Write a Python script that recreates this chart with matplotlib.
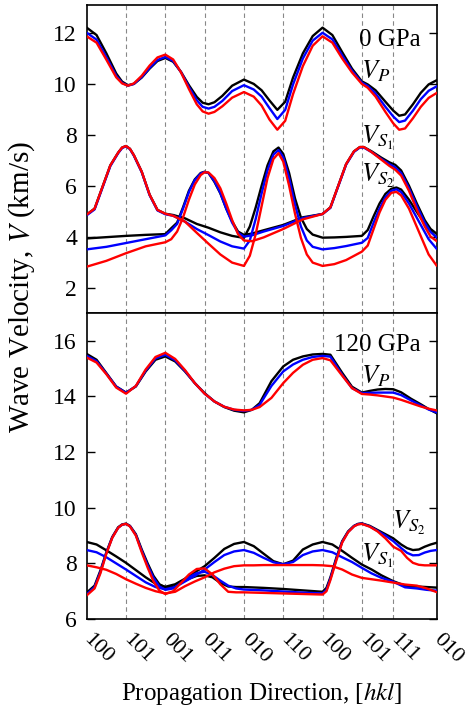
import numpy as np
import matplotlib.pyplot as plt

plt.rcParams['font.family'] = ['Liberation Serif', 'DejaVu Serif']
plt.rcParams['mathtext.fontset'] = 'stix'

# high-symmetry directions along the path (x in path units)
dir_pos = [0, 1, 2, 3, 4, 5, 6, 7, 7.79, 8.9]
dir_labels = ['100', '101', '001', '011', '010', '110', '100', '101', '111', '010']

# ---------------- 0 GPa ----------------
x_p0 = [0, 0.25, 0.5, 0.75, 0.9, 1.05, 1.2, 1.4, 1.6, 1.8, 2.0, 2.2, 2.4, 2.6, 2.8, 2.95,
        3.1, 3.25, 3.45, 3.7, 4.0, 4.25, 4.45, 4.65, 4.85, 5.05, 5.25, 5.5, 5.75, 6.0,
        6.25, 6.5, 6.75, 7.0, 7.15, 7.35, 7.6, 7.8, 7.95, 8.1, 8.3, 8.5, 8.7, 8.9]
vp0_black = [12.21, 11.92, 11.2, 10.41, 10.09, 9.95, 10.0, 10.25, 10.6, 10.9, 11.02, 10.87,
             10.47, 9.95, 9.49, 9.26, 9.2, 9.28, 9.53, 9.93, 10.17, 10.0, 9.75, 9.35, 8.98,
             9.3, 10.25, 11.2, 11.88, 12.21, 11.92, 11.25, 10.6, 10.1, 9.98, 9.75, 9.3,
             8.95, 8.75, 8.8, 9.2, 9.65, 9.98, 10.14]
vp0_blue = [12.01, 11.74, 11.05, 10.32, 10.04, 9.93, 10.0, 10.27, 10.63, 10.94, 11.06, 10.9,
            10.46, 9.88, 9.36, 9.1, 9.03, 9.1, 9.33, 9.72, 9.95, 9.78, 9.5, 9.05, 8.62,
            8.98, 9.98, 11.0, 11.7, 12.01, 11.75, 11.12, 10.52, 10.05, 9.92, 9.62, 9.1,
            8.72, 8.5, 8.56, 8.95, 9.4, 9.73, 9.9]
vp0_red = [11.87, 11.62, 10.95, 10.26, 10.02, 9.93, 10.02, 10.32, 10.72, 11.04, 11.15, 10.96,
           10.45, 9.8, 9.2, 8.92, 8.83, 8.9, 9.12, 9.46, 9.68, 9.5, 9.15, 8.6, 8.2,
           8.55, 9.6, 10.7, 11.5, 11.87, 11.62, 11.0, 10.45, 10.0, 9.85, 9.5, 8.9,
           8.45, 8.2, 8.25, 8.65, 9.1, 9.45, 9.64]

x_sa0 = [0, 0.2, 0.4, 0.6, 0.8, 0.9, 1.0, 1.1, 1.2, 1.4, 1.6, 1.8, 2.0, 2.2, 2.5, 2.8, 3.1,
         3.4, 3.7, 4.0, 4.15, 4.3, 4.45, 4.6, 4.75, 4.88, 5.0, 5.15, 5.3, 5.45, 5.6, 5.75,
         6.0, 6.3, 6.6, 7.0, 7.15, 7.3, 7.45, 7.6, 7.75, 7.88, 8.0, 8.2, 8.45, 8.7, 8.9]
vsa0_black = [4.87, 5.1, 5.95, 6.8, 7.3, 7.5, 7.56, 7.45, 7.2, 6.55, 5.65, 5.05, 4.9, 4.85,
              4.72, 4.5, 4.35, 4.17, 4.03, 3.95, 4.4, 5.15, 6.0, 6.8, 7.35, 7.5, 7.25, 6.5,
              5.5, 4.75, 4.3, 4.08, 3.96, 3.97, 3.99, 4.03, 4.26, 4.8, 5.3, 5.68, 5.88,
              5.93, 5.85, 5.45, 4.85, 4.3, 3.97]
vsa0_blue = [4.84, 5.07, 5.92, 6.77, 7.28, 7.48, 7.55, 7.44, 7.18, 6.53, 5.63, 5.03, 4.88,
             4.82, 4.59, 4.3, 4.06, 3.81, 3.62, 3.53, 3.85, 4.7, 5.7, 6.6, 7.22, 7.4, 7.12,
             6.3, 5.25, 4.4, 3.85, 3.6, 3.5, 3.55, 3.63, 3.76, 3.95, 4.55, 5.1, 5.55, 5.8,
             5.86, 5.75, 5.3, 4.6, 3.9, 3.53]
vsa0_red = [4.87, 5.1, 5.95, 6.8, 7.3, 7.5, 7.56, 7.45, 7.2, 6.55, 5.65, 5.05, 4.9, 4.82,
            4.59, 4.15, 3.72, 3.3, 2.98, 2.85, 3.25, 4.1, 5.2, 6.3, 7.05, 7.28, 6.95, 6.0,
            4.9, 3.95, 3.3, 2.98, 2.85, 2.92, 3.08, 3.41, 3.65, 4.3, 4.95, 5.45, 5.72,
            5.76, 5.62, 5.1, 4.2, 3.3, 2.87]

x_sb0 = [0, 0.5, 1.0, 1.5, 2.0, 2.15, 2.3, 2.45, 2.6, 2.75, 2.9, 3.0, 3.1, 3.25, 3.4, 3.55,
         3.7, 3.85, 4.0, 4.2, 4.5, 5.0, 5.5, 6.0, 6.2, 6.4, 6.6, 6.8, 6.95, 7.05, 7.25,
         7.5, 7.7, 7.85, 8.0, 8.2, 8.4, 8.6, 8.75, 8.9]
vsb0_black = [3.93, 3.98, 4.03, 4.07, 4.1, 4.33, 4.55, 5.15, 5.8, 6.25, 6.5, 6.55, 6.5, 6.15,
              5.7, 5.1, 4.6, 4.2, 4.07, 4.12, 4.25, 4.46, 4.76, 4.89, 5.15, 6.0, 6.85,
              7.35, 7.52, 7.52, 7.35, 7.1, 6.92, 6.82, 6.6, 6.0, 5.3, 4.65, 4.3, 4.12]
vsb0_blue = [3.5, 3.6, 3.75, 3.9, 4.05, 4.25, 4.5, 5.1, 5.75, 6.22, 6.48, 6.54, 6.5, 6.18,
             5.72, 5.1, 4.55, 4.15, 4.0, 4.05, 4.2, 4.42, 4.73, 4.89, 5.13, 5.98, 6.83,
             7.33, 7.5, 7.5, 7.32, 7.05, 6.85, 6.72, 6.5, 5.9, 5.2, 4.55, 4.18, 3.98]
vsb0_red = [2.82, 3.05, 3.35, 3.62, 3.78, 3.9, 4.2, 4.75, 5.45, 6.05, 6.42, 6.53, 6.52, 6.3,
            5.9, 5.3, 4.65, 4.1, 3.85, 3.82, 3.97, 4.3, 4.68, 4.89, 5.15, 6.0, 6.85, 7.35,
            7.52, 7.52, 7.32, 7.02, 6.78, 6.63, 6.4, 5.8, 5.05, 4.4, 4.0, 3.83]

# ---------------- 120 GPa ----------------
x_p1 = [0, 0.25, 0.5, 0.75, 1.0, 1.25, 1.5, 1.75, 2.0, 2.25, 2.5, 2.75, 3.0, 3.25, 3.5,
        3.75, 4.0, 4.2, 4.4, 4.7, 5.0, 5.25, 5.5, 5.75, 6.0, 6.2, 6.5, 6.75, 7.0, 7.2,
        7.4, 7.6, 7.8, 8.0, 8.25, 8.5, 8.7, 8.9]
vp1_black = [15.53, 15.32, 14.84, 14.36, 14.14, 14.36, 14.9, 15.32, 15.44, 15.26, 14.9,
             14.48, 14.12, 13.82, 13.62, 13.49, 13.43, 13.52, 13.76, 14.55, 15.08, 15.32,
             15.44, 15.51, 15.53, 15.5, 14.85, 14.35, 14.14, 14.2, 14.25, 14.27, 14.26,
             14.15, 13.92, 13.72, 13.55, 13.4]
vp1_blue = [15.46, 15.27, 14.82, 14.35, 14.13, 14.37, 14.93, 15.37, 15.5, 15.3, 14.92,
            14.48, 14.1, 13.82, 13.63, 13.52, 13.48, 13.52, 13.7, 14.38, 14.9, 15.15,
            15.32, 15.42, 15.46, 15.43, 14.78, 14.3, 14.12, 14.13, 14.14, 14.14, 14.14,
            14.05, 13.86, 13.68, 13.53, 13.43]
vp1_red = [15.4, 15.22, 14.8, 14.32, 14.1, 14.38, 14.97, 15.42, 15.57, 15.35, 14.95, 14.48,
           14.1, 13.82, 13.63, 13.53, 13.5, 13.52, 13.62, 13.95, 14.48, 14.85, 15.14,
           15.32, 15.38, 15.3, 14.75, 14.3, 14.09, 14.07, 14.04, 14.0, 13.96, 13.88,
           13.76, 13.64, 13.56, 13.5]

x_sa1 = [0, 0.2, 0.35, 0.5, 0.65, 0.8, 0.9, 1.0, 1.1, 1.25, 1.4, 1.55, 1.7, 1.85, 2.0,
         2.2, 2.4, 2.6, 2.8, 3.0, 3.2, 3.4, 3.6, 3.8, 4.0, 4.5, 5.0, 5.5, 6.0, 6.1, 6.2,
         6.35, 6.5, 6.65, 6.8, 6.9, 7.0, 7.2, 7.4, 7.6, 7.8, 8.0, 8.15, 8.3, 8.45, 8.6,
         8.75, 8.9]
vsa1_black = [6.95, 7.2, 7.75, 8.4, 8.95, 9.3, 9.4, 9.43, 9.35, 9.05, 8.5, 8.0, 7.55, 7.25,
              7.13, 7.15, 7.3, 7.45, 7.55, 7.57, 7.5, 7.3, 7.17, 7.15, 7.15, 7.12, 7.08,
              7.03, 6.98, 7.12, 7.5, 8.2, 8.8, 9.15, 9.35, 9.42, 9.44, 9.35, 9.2, 9.05,
              8.9, 8.68, 8.55, 8.48, 8.5, 8.6, 8.68, 8.74]
vsa1_blue = [6.89, 7.15, 7.7, 8.38, 8.93, 9.28, 9.39, 9.42, 9.34, 9.02, 8.45, 7.93, 7.48,
             7.17, 7.05, 7.1, 7.3, 7.5, 7.65, 7.7, 7.58, 7.38, 7.2, 7.1, 7.06, 7.03, 6.99,
             6.95, 6.92, 7.05, 7.45, 8.15, 8.77, 9.13, 9.34, 9.41, 9.43, 9.33, 9.17, 9.0,
             8.8, 8.55, 8.38, 8.29, 8.3, 8.39, 8.45, 8.48]
vsa1_red = [6.85, 7.1, 7.65, 8.35, 8.92, 9.28, 9.39, 9.42, 9.33, 9.0, 8.4, 7.85, 7.35, 7.02,
            6.9, 7.0, 7.3, 7.6, 7.8, 7.82, 7.6, 7.25, 6.98, 6.96, 6.96, 6.94, 6.92, 6.9,
            6.88, 7.0, 7.4, 8.1, 8.75, 9.12, 9.33, 9.4, 9.42, 9.32, 9.15, 8.9, 8.6, 8.45,
            8.2, 8.02, 7.95, 7.93, 7.93, 7.93]

x_sb1 = [0, 0.25, 0.5, 0.75, 1.0, 1.25, 1.5, 1.75, 2.0, 2.25, 2.5, 2.75, 3.0, 3.25, 3.5,
         3.75, 4.0, 4.25, 4.5, 4.75, 5.0, 5.25, 5.5, 5.75, 6.0, 6.25, 6.5, 6.75, 7.0, 7.25,
         7.5, 7.8, 8.1, 8.4, 8.65, 8.9]
vsb1_black = [8.77, 8.68, 8.47, 8.25, 8.02, 7.76, 7.5, 7.27, 7.16, 7.25, 7.45, 7.68, 7.9,
              8.2, 8.52, 8.7, 8.77, 8.62, 8.35, 8.08, 7.97, 8.1, 8.5, 8.68, 8.77, 8.68,
              8.45, 8.2, 7.96, 7.78, 7.57, 7.36, 7.2, 7.17, 7.15, 7.13]
vsb1_blue = [8.48, 8.4, 8.22, 8.0, 7.78, 7.55, 7.32, 7.15, 7.07, 7.15, 7.35, 7.55, 7.78,
             8.05, 8.3, 8.43, 8.48, 8.38, 8.2, 8.04, 7.97, 8.05, 8.3, 8.43, 8.48, 8.4,
             8.22, 8.05, 7.84, 7.64, 7.48, 7.34, 7.14, 7.1, 7.05, 7.02]
vsb1_red = [7.93, 7.86, 7.77, 7.62, 7.43, 7.27, 7.12, 7.0, 6.92, 6.98, 7.18, 7.35, 7.5,
            7.68, 7.81, 7.9, 7.93, 7.93, 7.94, 7.94, 7.94, 7.94, 7.94, 7.94, 7.93, 7.9,
            7.78, 7.6, 7.48, 7.43, 7.38, 7.31, 7.24, 7.2, 7.1, 6.97]

fig = plt.figure(figsize=(4.67, 7.14), dpi=100)
ax1 = fig.add_axes([0.1857, 0.5616, 0.749, 0.4314])
ax2 = fig.add_axes([0.1857, 0.133, 0.749, 0.4286])

panels = [
    (ax1, [(x_p0, vp0_black, vp0_blue, vp0_red),
           (x_sa0, vsa0_black, vsa0_blue, vsa0_red),
           (x_sb0, vsb0_black, vsb0_blue, vsb0_red)], (1, 13.1), np.arange(2, 13, 2)),
    (ax2, [(x_p1, vp1_black, vp1_blue, vp1_red),
           (x_sa1, vsa1_black, vsa1_blue, vsa1_red),
           (x_sb1, vsb1_black, vsb1_blue, vsb1_red)], (6, 17), np.arange(6, 17, 2)),
]

for ax, curves, ylim, yticks in panels:
    for xd in dir_pos[1:-1]:
        ax.axvline(xd, color='#888888', lw=0.8, ls=(0, (4, 3)), zorder=1)
    for xs, vb, vbl, vr in curves:
        ax.plot(xs, vb, color='black', lw=1.7, zorder=3)
        ax.plot(xs, vbl, color='blue', lw=1.7, zorder=4)
        ax.plot(xs, vr, color='red', lw=1.7, zorder=5)
    ax.set_xlim(0, 8.9)
    ax.set_ylim(*ylim)
    ax.set_yticks(yticks)
    ax.tick_params(axis='y', direction='in', length=6, width=1, left=True, right=True,
                   labelsize=17, pad=7)
    for sp in ax.spines.values():
        sp.set_linewidth(1.2)

ax1.set_xticks([])
ax2.set_xticks(dir_pos)
ax2.set_xticklabels(dir_labels, rotation=-45, ha='left', va='center',
                    rotation_mode='anchor', fontsize=16)
ax2.tick_params(axis='x', length=0, pad=13)

ax1.text(8.5, 11.72, '0 GPa', fontsize=18, ha='right', va='center')
ax1.text(7.34, 10.5, r'$V_P$', fontsize=19, ha='center', va='center')
ax1.text(7.39, 7.87, r'$V_{S_1}$', fontsize=19, ha='center', va='center')
ax1.text(7.41, 6.37, r'$V_{S_2}$', fontsize=19, ha='center', va='center')

ax2.text(8.5, 15.86, '120 GPa', fontsize=18, ha='right', va='center')
ax2.text(7.34, 14.74, r'$V_P$', fontsize=19, ha='center', va='center')
ax2.text(8.2, 9.45, r'$V_{S_2}$', fontsize=19, ha='center', va='center')
ax2.text(7.39, 8.27, r'$V_{S_1}$', fontsize=19, ha='center', va='center')

fig.text(0.047, 0.598, r'Wave Velocity, $V$ (km/s)', rotation=90, ha='center',
         va='center', fontsize=21)
fig.text(0.5604, 0.0294, r'Propagation Direction, [$hkl$]', ha='center', va='center',
         fontsize=18)

fig.savefig('out.png', dpi=100)
